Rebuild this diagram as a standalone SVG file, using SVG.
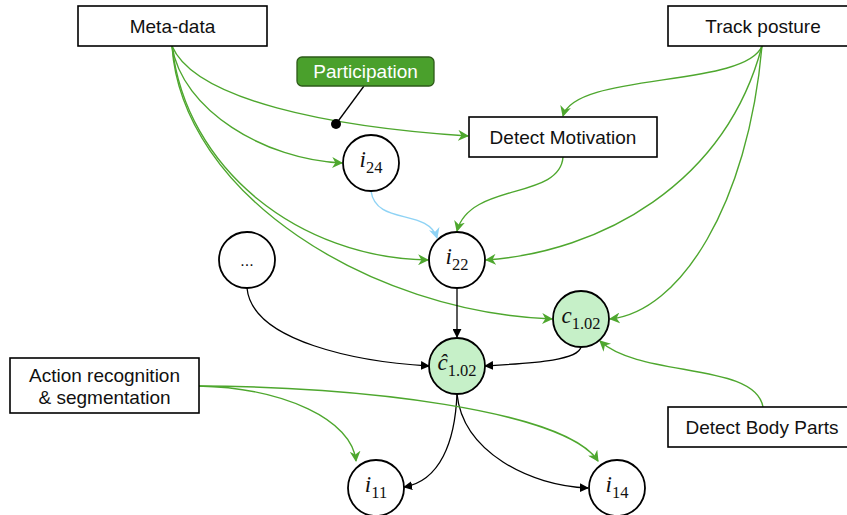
<svg xmlns="http://www.w3.org/2000/svg" width="847" height="515" viewBox="0 0 847 515">
<defs>
<marker id="ag" viewBox="0 0 10 10" refX="9" refY="5" markerWidth="11" markerHeight="11" markerUnits="userSpaceOnUse" orient="auto"><path d="M0,0 L10,5 L0,10 L3,5 z" fill="#4ea72e"/></marker>
<marker id="ak" viewBox="0 0 10 10" refX="9" refY="5" markerWidth="9" markerHeight="9" markerUnits="userSpaceOnUse" orient="auto"><path d="M0,0 L10,5 L0,10 z" fill="#000"/></marker>
<marker id="ab" viewBox="0 0 10 10" refX="9" refY="5" markerWidth="11" markerHeight="11" markerUnits="userSpaceOnUse" orient="auto"><path d="M0,0 L10,5 L0,10 L3,5 z" fill="#8fd3f5"/></marker>
</defs>
<style>
.box{fill:#fff;stroke:#000;stroke-width:1.6}
.lbl{font-family:"Liberation Sans",Arial,sans-serif;font-size:19px;fill:#111;text-anchor:middle}
.node{fill:#fff;stroke:#000;stroke-width:1.8}
.gnode{fill:#c6f0c8;stroke:#000;stroke-width:1.8}
.math{font-family:"Liberation Serif","DejaVu Serif",serif;font-size:23px;font-style:italic;fill:#111;text-anchor:middle}
.sub{font-size:16.5px;font-style:normal}
.g{fill:none;stroke:#4ea72e;stroke-width:1.4;marker-end:url(#ag)}
.k{fill:none;stroke:#000;stroke-width:1.3;marker-end:url(#ak)}
.b{fill:none;stroke:#8fd3f5;stroke-width:1.4;marker-end:url(#ab)}
</style>
<rect width="847" height="515" fill="#fff"/>
<g id="connectors">
<path class="g" d="M172,46 C195,100 330,127 468,136"/>
<path class="g" d="M172,46 C182,110 265,160 342,163"/>
<path class="g" d="M172,46 C186,170 300,258 428,260"/>
<path class="g" d="M172,46 C182,195 370,312 552,319"/>
<path class="g" d="M762,46 C745,88 575,72 563,116"/>
<path class="g" d="M762,46 C725,185 600,252 486,260"/>
<path class="g" d="M762,46 C748,205 680,312 610,319"/>
<path class="g" d="M563,157 C560,200 470,182 457,231"/>
<path class="b" d="M371,191 C376,226 428,208 437,238"/>
<path class="k" d="M457,288 L457,337"/>
<path class="k" d="M247,288 C252,342 360,362 429,366"/>
<path class="k" d="M581,347 C578,361 530,363 485,366"/>
<path class="k" d="M457,394 C455,442 440,481 404,487"/>
<path class="k" d="M457,394 C463,452 530,486 588,488"/>
<path class="g" d="M198,386 C285,388 352,420 356,461"/>
<path class="g" d="M198,386 C355,386 565,410 598,461"/>
<path class="g" d="M763,407 C755,362 640,378 600,341"/>
<line x1="336" y1="124" x2="364" y2="86" stroke="#000" stroke-width="1.3"/>
<circle cx="336" cy="124" r="5" fill="#000"/>
</g>
<g id="meta-data"><rect class="box" x="78" y="6" width="189" height="40"/><text class="lbl" x="172.5" y="33">Meta-data</text></g>
<g id="track-posture"><rect class="box" x="668" y="6" width="190" height="40"/><text class="lbl" x="763" y="33">Track posture</text></g>
<g id="participation"><rect x="297" y="57" width="137" height="29" rx="5" fill="#4aa02c" stroke="#2d5a18" stroke-width="1.3"/><text class="lbl" x="365.5" y="78" style="fill:#fff">Participation</text></g>
<g id="detect-motivation"><rect class="box" x="469" y="117" width="188" height="40"/><text class="lbl" x="563" y="144">Detect Motivation</text></g>
<g id="i24"><circle class="node" cx="371" cy="163" r="28"/><text class="math" x="371" y="167">i<tspan class="sub" dy="6">24</tspan></text></g>
<g id="dots"><circle class="node" cx="247" cy="260" r="28"/><text class="lbl" x="247" y="266" style="font-size:16px">...</text></g>
<g id="i22"><circle class="node" cx="457" cy="260" r="28"/><text class="math" x="457" y="264">i<tspan class="sub" dy="6">22</tspan></text></g>
<g id="c102"><circle class="gnode" cx="581" cy="319" r="28"/><text class="math" x="581" y="323">c<tspan class="sub" dy="6">1.02</tspan></text></g>
<g id="chat102"><circle class="gnode" cx="457" cy="366" r="28"/><text class="math" x="457" y="370">ĉ<tspan class="sub" dy="6">1.02</tspan></text></g>
<g id="action"><rect class="box" x="10" y="358" width="189" height="55"/><text class="lbl" x="104.5" y="382">Action recognition</text><text class="lbl" x="104.5" y="404">&amp; segmentation</text></g>
<g id="detect-body-parts"><rect class="box" x="668" y="407" width="190" height="40"/><text class="lbl" x="762" y="434">Detect Body Parts</text></g>
<g id="i11"><circle class="node" cx="376" cy="488" r="28"/><text class="math" x="376" y="492">i<tspan class="sub" dy="6">11</tspan></text></g>
<g id="i14"><circle class="node" cx="617" cy="488" r="28"/><text class="math" x="617" y="492">i<tspan class="sub" dy="6">14</tspan></text></g>
</svg>
